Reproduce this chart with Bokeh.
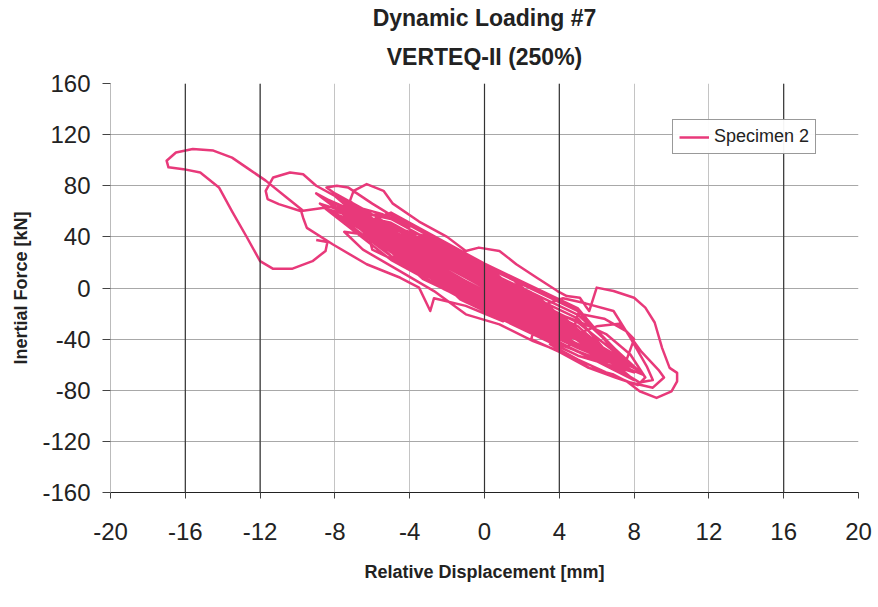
from bokeh.plotting import figure
from bokeh.models import Range1d, FixedTicker, Span, Legend, LegendItem, Title, ColumnDataSource
from bokeh.embed import file_html
from bokeh.resources import INLINE

title_line1 = "Dynamic Loading #7"
title_line2 = "VERTEQ-II (250%)"
x_label = "Relative Displacement [mm]"
y_label = "Inertial Force [kN]"
series_name = "Specimen 2"
x_ticks = [-20, -16, -12, -8, -4, 0, 4, 8, 12, 16, 20]
y_ticks = [-160, -120, -80, -40, 0, 40, 80, 120, 160]

# (relative displacement [mm], inertial force [kN])
excursion = [(-9.0, 37.5), (-8.4, 36.0), (-8.5, 29.0), (-9.2, 21.0), (-10.3, 15.0), (-11.3, 15.0),
             (-12.0, 21.0), (-12.7, 39.5), (-13.5, 60.0), (-14.2, 78.7), (-15.2, 90.4), (-16.1, 93.0),
             (-16.9, 94.4), (-17.0, 99.6), (-16.5, 106.0), (-15.6, 108.8), (-14.5, 107.5), (-13.5, 102.0),
             (-12.6, 93.0), (-11.7, 84.0), (-10.6, 71.0), (-9.7, 60.4)]
cycles_a = [(-8.0, 64.0), (-4.2, 21.4), (-0.3, -5.9), (3.5, -28.5), (-0.3, 12.1), (-4.2, 39.4),
            (-7.0, 58.0), (-3.0, 9.0), (1.0, -19.0), (5.0, -39.0), (1.0, -1.0), (-3.0, 27.0),
            (-6.0, 46.0), (-2.7, 14.9), (0.7, -8.9), (4.0, -32.0), (0.7, 9.1), (-2.7, 32.9),
            (-8.5, 70.0), (-5.0, 25.0), (-1.5, 0.5), (2.0, -18.0), (-1.5, 18.5), (-5.0, 43.0)]
outer_loop = [(-7.2, 68.0), (-7.0, 76.0), (-6.3, 81.3), (-5.4, 76.0), (-4.9, 66.0), (-3.5, 52.0),
              (-2.0, 40.0), (-1.0, 29.0), (-0.3, 31.6), (0.8, 29.0), (1.7, 18.6), (2.8, 8.0),
              (3.9, -2.4), (4.4, -6.3), (5.1, -7.6), (5.4, -14.0), (5.6, -18.0), (6.0, 0.3),
              (6.9, -2.3), (8.0, -7.6), (8.6, -15.4), (9.1, -27.0), (9.5, -47.0), (9.9, -62.5),
              (10.3, -66.4), (10.3, -73.0), (10.0, -80.8), (9.2, -86.0), (8.3, -80.8), (7.6, -73.0),
              (6.9, -67.7), (5.6, -62.5), (4.0, -49.4), (2.6, -41.6), (0.8, -28.5), (-1.0, -20.6),
              (-2.7, -2.4), (-4.5, 13.0), (-6.5, 30.0), (-7.5, 44.0)]
cycles_b = [(-5.0, 39.0), (-1.3, -4.9), (2.3, -30.1), (6.0, -52.0), (2.3, -12.1), (-1.3, 13.1),
            (-7.5, 66.0), (-3.5, 18.5), (0.5, -9.5), (4.5, -35.5), (0.5, 12.5), (-3.5, 40.5),
            (-4.0, 32.0), (-0.3, -7.9), (3.3, -33.1), (7.0, -60.0), (3.3, -13.1), (-0.3, 12.1),
            (-6.5, 49.5), (-3.3, 7.1), (-0.2, -14.6), (3.0, -25.0), (-0.2, 7.4), (-3.3, 29.1),
            (-9.0, 74.0), (-4.2, 21.4), (0.7, -12.9), (5.5, -42.5), (0.7, 7.1), (-4.2, 41.4)]
left_loops = [(-6.5, 62.0), (-8.0, 74.0), (-8.45, 78.7), (-7.9, 80.0), (-7.3, 78.7), (-6.0, 66.0),
              (-4.0, 48.0), (-5.5, 58.0), (-7.0, 64.0), (-9.0, 80.0), (-9.7, 89.0), (-10.4, 90.4),
              (-11.3, 86.5), (-11.7, 76.0), (-11.6, 69.6), (-11.0, 65.6), (-9.8, 60.0), (-9.7, 55.0),
              (-9.5, 47.0), (-8.1, 34.0), (-6.3, 18.6), (-4.5, 8.0), (-3.5, 0.3), (-2.9, -18.0),
              (-2.7, -8.0), (-1.0, -14.0), (1.0, -26.0)]
cycles_c = [(-5.5, 42.5), (-1.5, -1.5), (2.5, -29.5), (6.5, -56.0), (2.5, -9.5), (-1.5, 18.5),
            (-3.0, 25.0), (-0.7, -1.1), (1.7, -17.9), (4.0, -32.0), (1.7, -5.9), (-0.7, 10.9),
            (-7.0, 62.0), (-2.2, -0.6), (2.7, -34.9), (7.5, -66.0), (2.7, -4.9), (-2.2, 29.4),
            (-6.0, 46.0), (-3.2, 20.4), (-0.3, 0.1), (2.5, -21.5), (-0.3, 14.1), (-3.2, 34.4),
            (-4.5, 35.5), (-1.3, -8.9), (1.8, -30.6), (5.0, -39.0), (1.8, -8.6), (-1.3, 13.1),
            (-8.0, 72.0), (-3.3, 13.1), (1.3, -19.1), (6.0, -46.0), (1.3, 8.9), (-3.3, 41.1)]
cycles_e = [(-8.5, 62.0), (-5.0, 22.0), (0.0, -18.0), (5.0, -53.0), (8.0, -66.0), (5.0, -33.0), (0.0, 2.0), (-5.0, 42.0),
            (-8.0, 58.0), (-5.0, 25.0), (0.0, -15.0), (5.0, -50.0), (7.5, -62.0), (5.0, -30.0), (0.0, 5.0), (-5.0, 45.0),
            (-7.5, 57.0), (-5.0, 28.0), (0.0, -12.0), (5.0, -47.0), (8.5, -68.0), (5.0, -27.0), (0.0, 8.0), (-5.0, 48.0),
            (-8.8, 66.0), (-5.0, 31.0), (0.0, -9.0), (5.0, -44.0), (7.0, -58.0), (5.0, -24.0), (0.0, 11.0), (-5.0, 51.0),
            (-7.8, 60.0), (-5.0, 34.0), (0.0, -6.0), (5.0, -41.0), (8.2, -64.0), (5.0, -21.0), (0.0, 14.0), (-5.0, 54.0),
            (-8.2, 64.0), (-5.0, 37.0), (0.0, -3.0), (5.0, -38.0), (7.8, -60.0), (5.0, -18.0), (0.0, 17.0), (-5.0, 57.0),
            (-7.0, 58.0), (-5.0, 40.0), (0.0, 0.0), (5.0, -35.0), (7.2, -54.0), (5.0, -16.0), (0.0, 19.0), (-5.0, 59.0),
            (-6.5, 50.0), (-4.0, 14.0), (0.0, -16.0), (4.0, -44.0), (6.5, -58.0), (4.0, -30.0), (0.0, -2.0), (-4.0, 28.0),
            (-7.2, 58.0), (-4.0, 20.0), (0.0, -10.0), (4.0, -38.0), (6.8, -56.0), (4.0, -20.0), (0.0, 10.0), (-4.0, 38.0),
            (-6.0, 48.0), (-3.0, 12.0), (1.0, -20.0), (4.0, -40.0), (7.6, -64.0), (4.0, -22.0), (1.0, 4.0), (-3.0, 36.0)]
right_loops = [(1.5, -8.0), (3.5, -18.0), (5.0, -26.0), (6.5, -36.0), (7.8, -52.0), (8.6, -70.0),
               (8.2, -76.0), (7.0, -70.0), (5.5, -62.0), (4.0, -50.0), (2.5, -40.0),
               (3.0, -14.0), (4.2, -8.0), (5.4, -12.0), (6.9, -18.0), (7.8, -39.0), (8.7, -62.0),
               (9.0, -72.0), (8.3, -74.0), (7.4, -66.0), (6.2, -58.0), (4.5, -46.0),
               (5.0, -20.0), (6.4, -24.0), (7.6, -34.0), (8.4, -50.0), (9.3, -64.0), (9.6, -70.0),
               (9.0, -78.0), (7.8, -74.0), (6.5, -66.0), (5.0, -56.0), (3.5, -44.0),
               (6.0, -30.0), (7.2, -28.0), (8.0, -40.0), (7.6, -56.0), (6.8, -62.0), (5.6, -50.0)]
cycles_d = [(-5.0, 39.0), (-2.2, 9.4), (0.7, -10.9), (3.5, -28.5), (0.7, 5.1), (-2.2, 25.4),
            (-2.0, 24.0), (0.0, 4.0), (2.0, -16.0), (3.0, -26.0), (1.5, -6.0), (-0.5, 12.0), (-2.5, 30.0),
            (-3.5, 34.0), (-1.0, 12.0), (1.0, -6.0), (2.5, -22.0), (1.0, -12.0), (-1.5, 6.0), (-4.0, 24.0),
            (-5.0, 50.0), (-2.5, 30.0), (0.5, 8.0), (2.0, -4.0), (1.0, -18.0), (-1.5, -2.0), (-4.0, 16.0),
            (-6.0, 30.0),
            (-6.5, 58.0), (-1.7, -2.1), (3.2, -36.4), (8.0, -72.0), (3.2, -14.4), (-1.7, 19.9),
            (-3.5, 28.5), (-0.5, -4.5), (2.5, -25.5), (5.5, -42.5), (2.5, -3.5), (-0.5, 17.5),
            (-7.5, 64.0), (-4.0, 16.0), (-0.5, -8.5), (3.0, -25.0), (-0.5, 9.5), (-4.0, 34.0),
            (-5.5, 42.5), (-1.5, 6.5), (2.5, -21.5), (6.5, -58.0), (2.5, -5.5), (-1.5, 22.5),
            (-3.0, 20.0), (-1.0, 4.0)]

segments = [excursion, cycles_a, outer_loop, cycles_b, left_loops, cycles_c, cycles_e, right_loops, cycles_d]
disp = [pt[0] for seg in segments for pt in seg]
force = [pt[1] for seg in segments for pt in seg]

PINK = "#E8397A"
FONT = "Liberation Sans"

p = figure(width=878, height=607, output_backend="svg", toolbar_location=None,
           x_range=Range1d(-20, 20), y_range=Range1d(-160, 160),
           min_border_left=110, min_border_right=20, min_border_top=83, min_border_bottom=115,
           background_fill_color="white", border_fill_color="white", outline_line_color=None)

p.title.text = title_line1
p.title.align = "center"
p.title.text_font = FONT
p.title.text_font_size = "23px"
p.title.text_font_style = "bold"
p.title.text_color = "#222222"
p.title.standoff = -4
p.add_layout(Title(text=title_line2, align="center", text_font=FONT, text_font_size="23px",
                   text_font_style="bold", text_color="#222222", standoff=27), "above")

# grid
p.xgrid.ticker = FixedTicker(ticks=x_ticks)
p.ygrid.ticker = FixedTicker(ticks=y_ticks)
p.xgrid.grid_line_color = "#c4c4c4"
p.ygrid.grid_line_color = "#a8a8a8"
for xv in [-16, -12, 0, 4, 16]:
    p.add_layout(Span(location=xv, dimension="height", line_color="#333333", line_width=1.2))

# axes
p.xaxis.ticker = FixedTicker(ticks=x_ticks)
p.yaxis.ticker = FixedTicker(ticks=y_ticks)
p.xaxis.major_label_overrides = {t: str(t) for t in x_ticks}
p.yaxis.major_label_overrides = {t: str(t) for t in y_ticks}
for ax in (p.xaxis[0], p.yaxis[0]):
    ax.major_label_text_font = FONT
    ax.major_label_text_font_size = "24px"
    ax.major_label_text_color = "#222222"
    ax.axis_label_text_font = FONT
    ax.axis_label_text_font_size = "18px"
    ax.axis_label_text_font_style = "bold"
    ax.axis_label_text_color = "#222222"
    ax.minor_tick_line_color = None
    ax.major_tick_in = 0
    ax.major_tick_line_color = "#444444"
p.xaxis.axis_label = x_label
p.yaxis.axis_label = y_label
p.xaxis.axis_line_color = "#222222"
p.yaxis.axis_line_color = "#bbbbbb"
p.xaxis.major_tick_out = 6
p.yaxis.major_tick_out = 8
p.xaxis.major_label_standoff = 24
p.yaxis.major_label_standoff = 12
p.xaxis.axis_label_standoff = 19
p.yaxis.axis_label_standoff = 8

src = ColumnDataSource(data=dict(x=disp, y=force))
r = p.line("x", "y", source=src, line_color=PINK, line_width=2.5, line_join="round")

legend = Legend(items=[LegendItem(label=series_name, renderers=[r])], location=(562, 338),
                border_line_color="#333333", border_line_width=1, background_fill_color="white",
                label_text_font=FONT, label_text_font_size="18px", label_text_color="#222222",
                glyph_width=30, glyph_height=18, label_standoff=5, padding=6, margin=0, spacing=0)
p.add_layout(legend)

open("out.html", "w").write(file_html(p, INLINE))
